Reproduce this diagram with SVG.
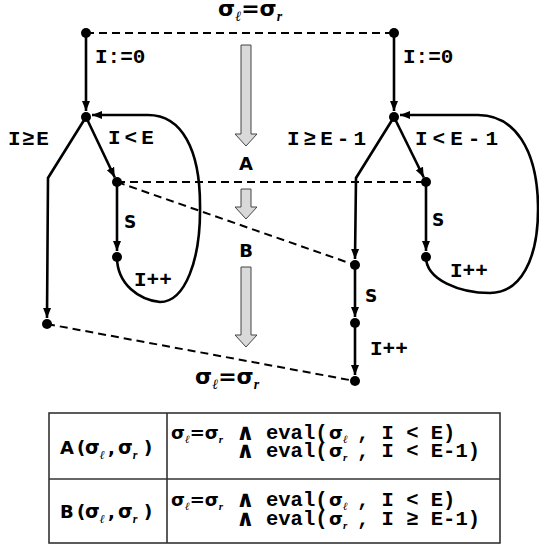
<svg xmlns="http://www.w3.org/2000/svg" width="539" height="548" viewBox="0 0 539 548">
<style>
.ln{stroke:#000;stroke-width:2.6;fill:none}
.ds{stroke:#000;stroke-width:2;fill:none;stroke-dasharray:8 5}
.dot{fill:#000}
.mono{font-family:"Liberation Mono","Courier New",monospace;font-weight:bold;font-size:21px;fill:#000}
.tm{font-size:20.5px}
.sans{font-family:"DejaVu Sans",Verdana,sans-serif;font-weight:bold;fill:#000}
.and{font-family:"DejaVu Sans",Verdana,sans-serif;font-weight:bold;font-size:23px;fill:#000}
.sub{font-family:"Liberation Serif","Times New Roman",serif;font-style:italic;font-weight:bold}
.big{fill:#d9d9d9;stroke:#444;stroke-width:1}
.tb{fill:none;stroke:#333;stroke-width:1.6}
</style>
<defs>
<marker id="ah" markerUnits="userSpaceOnUse" markerWidth="11" markerHeight="9" refX="10" refY="4.5" orient="auto">
<path d="M0,0.5 L10,4.5 L0,8.5 z" fill="#000"/>
</marker>
</defs>

<g id="title-top">
<text class="sans" x="218" y="16" font-size="22">σ<tspan class="sub" font-size="14" dy="5">ℓ</tspan><tspan dy="-5">=σ</tspan><tspan class="sub" font-size="14" dy="5">r</tspan></text>
</g>

<g id="connectors">
<line class="ds" x1="86" y1="33" x2="394" y2="33"/>
<line class="ds" x1="117" y1="182" x2="426" y2="182"/>
<line class="ds" x1="117" y1="182" x2="355" y2="265"/>
<line class="ds" x1="47" y1="324" x2="355" y2="381"/>
<line class="ln" x1="86" y1="33" x2="86" y2="111" marker-end="url(#ah)"/>
<line class="ln" x1="86" y1="117" x2="114.8" y2="177.5" marker-end="url(#ah)"/>
<polyline class="ln" points="86,117 48,178 47,318" marker-end="url(#ah)"/>
<line class="ln" x1="117" y1="182" x2="117" y2="251" marker-end="url(#ah)"/>
<path class="ln" d="M117,257 C117,285 140,300 160,302 C185,302 201,260 200,205 C200,150 182,115 148,115 L92,115" marker-end="url(#ah)"/>
<line class="ln" x1="394" y1="33" x2="394" y2="111" marker-end="url(#ah)"/>
<line class="ln" x1="394" y1="117" x2="423.8" y2="177.5" marker-end="url(#ah)"/>
<polyline class="ln" points="394,117 356,178 355,259" marker-end="url(#ah)"/>
<line class="ln" x1="426" y1="182" x2="426" y2="251" marker-end="url(#ah)"/>
<path class="ln" d="M426,257 C426,280 460,293 490,293 C520,293 539,260 538,205 C537,150 515,115 478,115 L400,115" marker-end="url(#ah)"/>
<line class="ln" x1="355" y1="265" x2="355" y2="317" marker-end="url(#ah)"/>
<line class="ln" x1="355" y1="323" x2="355" y2="375" marker-end="url(#ah)"/>
<text class="mono" x="95" y="63">I:=0</text>
<text class="mono" x="403" y="63">I:=0</text>
<text class="mono" x="8" y="145" letter-spacing="1.5">I≥E</text>
<text class="mono" x="108" y="144" letter-spacing="4">I&lt;E</text>
<text class="mono" x="287" y="145" letter-spacing="4">I≥E-1</text>
<text class="mono" x="415" y="145" letter-spacing="5">I&lt;E-1</text>
<text class="sans" x="124" y="228" font-size="17">S</text>
<text class="mono" x="134" y="286">I++</text>
<text class="sans" x="432" y="226" font-size="17">S</text>
<text class="mono" x="450" y="277">I++</text>
<text class="sans" x="365" y="302" font-size="17">S</text>
<text class="mono" x="370" y="355">I++</text>
</g>

<g id="node-l0"><circle class="dot" cx="86" cy="33" r="5"/></g>
<g id="node-l1"><circle class="dot" cx="86" cy="117" r="5"/></g>
<g id="node-l2"><circle class="dot" cx="117" cy="182" r="5"/></g>
<g id="node-l3"><circle class="dot" cx="117" cy="257" r="5"/></g>
<g id="node-lexit"><circle class="dot" cx="47" cy="324" r="5"/></g>
<g id="node-r0"><circle class="dot" cx="394" cy="33" r="5"/></g>
<g id="node-r1"><circle class="dot" cx="394" cy="117" r="5"/></g>
<g id="node-r2"><circle class="dot" cx="426" cy="182" r="5"/></g>
<g id="node-r3"><circle class="dot" cx="426" cy="257" r="5"/></g>
<g id="node-rs1"><circle class="dot" cx="355" cy="265" r="5"/></g>
<g id="node-rs2"><circle class="dot" cx="355" cy="323" r="5"/></g>
<g id="node-rend"><circle class="dot" cx="355" cy="381" r="5"/></g>

<g id="progress-arrows">
<polygon class="big" points="241,45 251,45 251,134 257,134 246,146 235,134 241,134"/>
<text class="sans" x="246" y="170" font-size="18" text-anchor="middle">A</text>
<polygon class="big" points="241,189 251,189 251,207 257,207 246,219 235,207 241,207"/>
<text class="sans" x="246" y="257" font-size="18" text-anchor="middle">B</text>
<polygon class="big" points="241,267 251,267 251,335 257,335 246,347 235,335 241,335"/>
</g>

<g id="title-bottom">
<text class="sans" x="195" y="384" font-size="22">σ<tspan class="sub" font-size="14" dy="5">ℓ</tspan><tspan dy="-5">=σ</tspan><tspan class="sub" font-size="14" dy="5">r</tspan></text>
</g>

<g id="table">
<rect class="tb" x="49" y="413" width="451" height="130"/>
<line class="tb" x1="167" y1="413" x2="167" y2="543"/>
<line class="tb" x1="49" y1="479" x2="500" y2="479"/>
<text class="sans" font-size="18" y="454"><tspan x="60">A</tspan><tspan x="77">(</tspan><tspan x="85" font-size="19">σ</tspan><tspan class="sub" font-size="12" dy="5">ℓ</tspan><tspan dy="-5" x="108">,</tspan><tspan x="118" font-size="19">σ</tspan><tspan class="sub" font-size="12" dy="5">r</tspan><tspan dy="-5" x="144">)</tspan></text>
<text class="sans" font-size="18" y="518"><tspan x="60">B</tspan><tspan x="77">(</tspan><tspan x="85" font-size="19">σ</tspan><tspan class="sub" font-size="12" dy="5">ℓ</tspan><tspan dy="-5" x="108">,</tspan><tspan x="118" font-size="19">σ</tspan><tspan class="sub" font-size="12" dy="5">r</tspan><tspan dy="-5" x="144">)</tspan></text>

<text class="sans" font-size="18" x="171" y="439">σ<tspan class="sub" font-size="11" dy="4">ℓ</tspan><tspan dy="-4">=σ</tspan><tspan class="sub" font-size="11" dy="4">r</tspan></text>
<text class="and" x="236" y="440">∧</text>
<text class="mono tm" x="266" y="439">eval(</text>
<text class="sans" font-size="18" x="329" y="439">σ<tspan class="sub" font-size="11" dy="4">ℓ</tspan></text>
<text class="mono tm" x="357" y="439">, I &lt; E)</text>

<text class="and" x="236" y="458">∧</text>
<text class="mono tm" x="266" y="457">eval(</text>
<text class="sans" font-size="18" x="329" y="457">σ<tspan class="sub" font-size="11" dy="4">r</tspan></text>
<text class="mono tm" x="357" y="457">, I &lt; E-1)</text>

<text class="sans" font-size="18" x="171" y="506">σ<tspan class="sub" font-size="11" dy="4">ℓ</tspan><tspan dy="-4">=σ</tspan><tspan class="sub" font-size="11" dy="4">r</tspan></text>
<text class="and" x="236" y="507">∧</text>
<text class="mono tm" x="266" y="506">eval(</text>
<text class="sans" font-size="18" x="329" y="506">σ<tspan class="sub" font-size="11" dy="4">ℓ</tspan></text>
<text class="mono tm" x="357" y="506">, I &lt; E)</text>

<text class="and" x="236" y="526">∧</text>
<text class="mono tm" x="266" y="525">eval(</text>
<text class="sans" font-size="18" x="329" y="525">σ<tspan class="sub" font-size="11" dy="4">r</tspan></text>
<text class="mono tm" x="357" y="525">, I ≥ E-1)</text>
</g>
</svg>
